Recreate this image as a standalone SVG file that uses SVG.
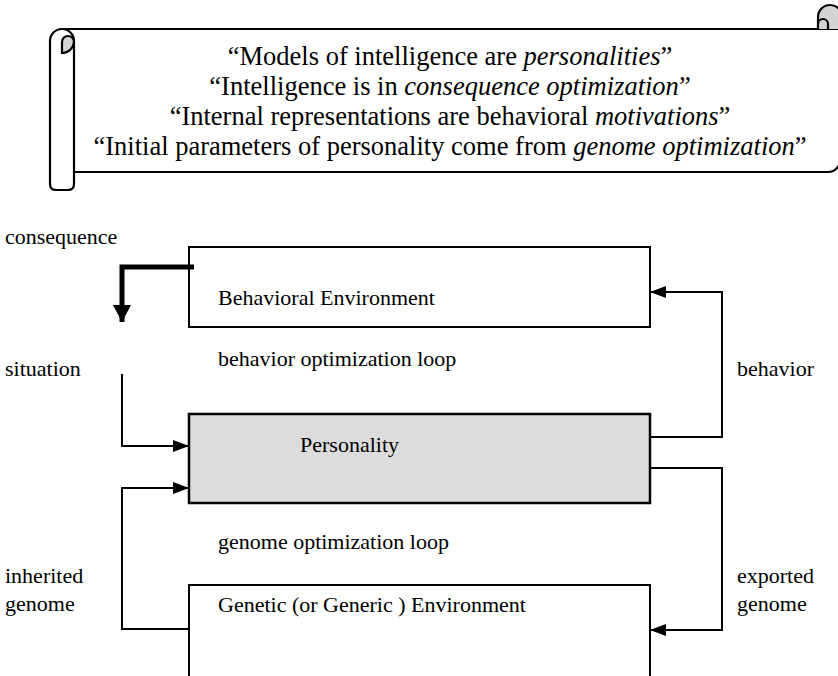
<svg xmlns="http://www.w3.org/2000/svg" width="838" height="676" viewBox="0 0 838 676">
<defs>
<style>
text{font-family:"Liberation Serif","Times New Roman",serif;font-size:22px;fill:#000}
.big{font-size:26.5px}
.it{font-style:italic}
.box{fill:#fff;stroke:#000;stroke-width:2}
.pers{fill:#dcdcdc;stroke:#000;stroke-width:2.5}
.con{fill:none;stroke:#000;stroke-width:2}
.thick{fill:none;stroke:#000;stroke-width:5}
.scroll{fill:#fff;stroke:#000;stroke-width:2.2;stroke-linejoin:round}
.curl{fill:#d4d4d4;stroke:#000;stroke-width:2.2}
</style>
<marker id="ah" viewBox="0 0 16 12" refX="16" refY="6" markerWidth="16" markerHeight="12" markerUnits="userSpaceOnUse" orient="auto">
<path d="M0,0 L16,6 L0,12 Z" fill="#000"/>
</marker>
<marker id="ahb" viewBox="0 0 17 18" refX="17" refY="9" markerWidth="17" markerHeight="18" markerUnits="userSpaceOnUse" orient="auto">
<path d="M0,0 L17,9 L0,18 Z" fill="#000"/>
</marker>
</defs>

<g id="scroll">
<path class="scroll" d="M62,29 L842,29 L842,160 L840,160 A12,12 0 0 1 828,172 L74,172"/>
<path class="curl" d="M818,29 L818,17 A12,12 0 0 1 842,17 L842,29"/>
<path class="scroll" style="fill:none" d="M828,29 L828,24 A5,5 0 0 0 818,24"/>
<path class="scroll" d="M50,41 A12,12 0 0 1 74,41 L74,184 Q74,190 68,190 L56,190 Q50,190 50,184 Z"/>
<path class="curl" d="M62,53 L62,42 A6,6 0 0 1 74,42 A12,12 0 0 1 62,53 Z"/>
<text class="big" x="450" y="65" text-anchor="middle">“Models of intelligence are <tspan class="it">personalities</tspan>”</text>
<text class="big" x="450" y="95" text-anchor="middle">“Intelligence is in <tspan class="it">consequence optimization</tspan>”</text>
<text class="big" x="450" y="125" text-anchor="middle">“Internal representations are behavioral <tspan class="it">motivations</tspan>”</text>
<text class="big" x="450" y="155" text-anchor="middle">“Initial parameters of personality come from <tspan class="it">genome optimization</tspan>”</text>
</g>

<g id="behavioral-environment">
<rect class="box" x="189" y="247" width="461" height="80"/>
<text x="218" y="305">Behavioral Environment</text>
</g>

<g id="personality">
<rect class="pers" x="189" y="414" width="461" height="89"/>
<text x="300" y="452">Personality</text>
</g>

<g id="genetic-environment">
<rect class="box" x="189" y="585" width="461" height="120"/>
<text x="218" y="612">Genetic (or Generic ) Environment</text>
</g>

<g id="connectors">
<path class="thick" d="M194,267 L122,267 L122,322" marker-end="url(#ahb)"/>
<path class="con" d="M122,374 L122,446 L189,446" marker-end="url(#ah)"/>
<path class="con" d="M189,629 L122,629 L122,488 L189,488" marker-end="url(#ah)"/>
<path class="con" d="M650,437 L722,437 L722,292 L650,292" marker-end="url(#ah)"/>
<path class="con" d="M650,468 L722,468 L722,630 L650,630" marker-end="url(#ah)"/>
</g>

<g id="labels">
<text x="5" y="244">consequence</text>
<text x="218" y="366">behavior optimization loop</text>
<text x="5" y="376">situation</text>
<text x="737" y="376">behavior</text>
<text x="218" y="549">genome optimization loop</text>
<text x="5" y="583">inherited</text>
<text x="5" y="611">genome</text>
<text x="737" y="583">exported</text>
<text x="737" y="611">genome</text>
</g>
</svg>
